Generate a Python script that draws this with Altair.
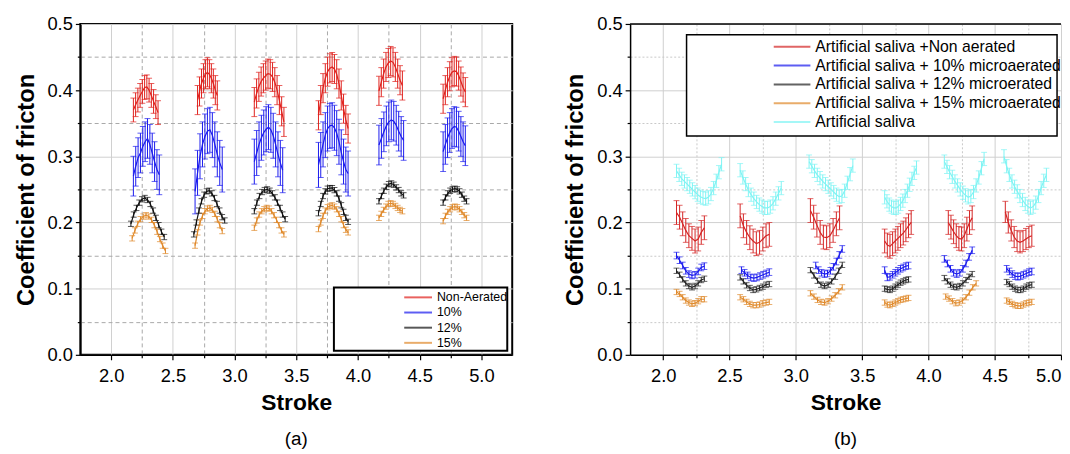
import altair as alt
import pandas as pd
import numpy as np

FONT = "Liberation Sans"

# ---------------- Panel (a) ----------------
a_names = ["Non-Aerated", "10%", "12%", "15%"]
a_colors = ["#e0201c", "#1a1aee", "#111111", "#e08a2c"]

a_red_y = [
    [0.370, 0.378, 0.385, 0.392, 0.398, 0.404, 0.405, 0.400, 0.392, 0.383, 0.375, 0.366],
    [0.385, 0.398, 0.410, 0.418, 0.424, 0.427, 0.424, 0.418, 0.410, 0.400, 0.392],
    [0.382, 0.395, 0.405, 0.413, 0.418, 0.422, 0.425, 0.424, 0.420, 0.412, 0.400, 0.385, 0.368, 0.352],
    [0.362, 0.385, 0.403, 0.418, 0.428, 0.433, 0.435, 0.432, 0.424, 0.410, 0.392, 0.372, 0.355, 0.342],
    [0.399, 0.412, 0.425, 0.435, 0.441, 0.444, 0.442, 0.435, 0.425, 0.415, 0.407],
    [0.387, 0.400, 0.412, 0.421, 0.427, 0.429, 0.428, 0.422, 0.413, 0.404, 0.397],
]
a_red_x = [(2.18, 2.38), (2.70, 2.86), (3.16, 3.40), (3.68, 3.92), (4.17, 4.36), (4.69, 4.87)]
a_red_err = [0.018, 0.022, 0.022, 0.022, 0.022, 0.022]

a_blue_y = [
    [0.270, 0.285, 0.298, 0.305, 0.315, 0.322, 0.327, 0.318, 0.305, 0.292, 0.280, 0.272],
    [0.247, 0.275, 0.300, 0.318, 0.330, 0.338, 0.340, 0.332, 0.318, 0.303, 0.290, 0.280],
    [0.292, 0.305, 0.318, 0.328, 0.336, 0.341, 0.344, 0.340, 0.331, 0.318, 0.303, 0.290, 0.279],
    [0.287, 0.302, 0.318, 0.332, 0.342, 0.346, 0.347, 0.343, 0.335, 0.322, 0.306, 0.292, 0.280, 0.274],
    [0.317, 0.327, 0.337, 0.346, 0.352, 0.355, 0.353, 0.347, 0.338, 0.330, 0.324],
    [0.307, 0.318, 0.328, 0.336, 0.342, 0.345, 0.344, 0.338, 0.330, 0.322, 0.316],
]
a_blue_x = [(2.18, 2.39), (2.68, 2.90), (3.16, 3.39), (3.68, 3.92), (4.17, 4.37), (4.69, 4.87)]
a_blue_err = [0.030, 0.034, 0.034, 0.034, 0.030, 0.030]

a_black_y = [
    [0.198, 0.212, 0.222, 0.230, 0.235, 0.237, 0.234, 0.228, 0.218, 0.207, 0.196, 0.186, 0.178],
    [0.182, 0.200, 0.218, 0.232, 0.242, 0.247, 0.248, 0.244, 0.237, 0.228, 0.218, 0.208, 0.203],
    [0.217, 0.230, 0.240, 0.246, 0.249, 0.250, 0.248, 0.244, 0.238, 0.230, 0.222, 0.212, 0.205],
    [0.214, 0.228, 0.240, 0.247, 0.251, 0.252, 0.252, 0.249, 0.244, 0.236, 0.226, 0.216, 0.207, 0.201],
    [0.232, 0.240, 0.248, 0.254, 0.258, 0.259, 0.257, 0.253, 0.249, 0.244, 0.241],
    [0.230, 0.238, 0.244, 0.248, 0.250, 0.251, 0.250, 0.247, 0.242, 0.236, 0.232],
]
a_black_x = [(2.16, 2.43), (2.67, 2.92), (3.16, 3.41), (3.68, 3.92), (4.17, 4.37), (4.69, 4.88)]
a_black_err = [0.004, 0.004, 0.004, 0.004, 0.004, 0.004]

a_orange_y = [
    [0.176, 0.188, 0.198, 0.205, 0.209, 0.211, 0.209, 0.204, 0.196, 0.186, 0.175, 0.165, 0.157],
    [0.165, 0.185, 0.200, 0.210, 0.217, 0.221, 0.222, 0.219, 0.213, 0.205, 0.196, 0.187],
    [0.192, 0.203, 0.212, 0.217, 0.220, 0.222, 0.221, 0.217, 0.211, 0.204, 0.196, 0.188, 0.182],
    [0.190, 0.200, 0.210, 0.218, 0.223, 0.225, 0.226, 0.224, 0.220, 0.213, 0.205, 0.196, 0.189, 0.185],
    [0.207, 0.213, 0.219, 0.224, 0.228, 0.229, 0.228, 0.225, 0.222, 0.219, 0.217],
    [0.202, 0.210, 0.216, 0.220, 0.223, 0.224, 0.223, 0.220, 0.216, 0.211, 0.207],
]
a_orange_x = [(2.17, 2.44), (2.68, 2.90), (3.16, 3.40), (3.68, 3.92), (4.17, 4.36), (4.69, 4.88)]
a_orange_err = [0.004, 0.004, 0.004, 0.004, 0.004, 0.004]

# ---------------- Panel (b) ----------------
b_names = ["Artificial saliva +Non aerated", "Artificial saliva + 10% microaerated",
           "Artificial saliva + 12% microerated", "Artificial saliva + 15% microaerated",
           "Artificial saliva"]
b_colors = ["#d42424", "#1a1aee", "#222222", "#e08a2c", "#7ff4f4"]

b_red_y = [
    [0.215, 0.208, 0.198, 0.188, 0.180, 0.176, 0.172, 0.175, 0.185, 0.192],
    [0.210, 0.195, 0.185, 0.177, 0.172, 0.168, 0.170, 0.175, 0.180, 0.182],
    [0.218, 0.208, 0.196, 0.185, 0.178, 0.177, 0.180, 0.188, 0.198, 0.207],
    [0.172, 0.166, 0.164, 0.168, 0.172, 0.176, 0.180, 0.184, 0.189, 0.195, 0.200],
    [0.200, 0.193, 0.186, 0.180, 0.176, 0.175, 0.180, 0.190, 0.200, 0.207],
    [0.216, 0.200, 0.188, 0.178, 0.172, 0.170, 0.172, 0.175, 0.178, 0.180],
]
b_red_x = [(2.10, 2.31), (2.58, 2.80), (3.11, 3.33), (3.67, 3.87), (4.15, 4.33), (4.58, 4.78)]
b_red_err = [0.018, 0.018, 0.018, 0.018, 0.018, 0.016]

b_blue_y = [
    [0.150, 0.143, 0.135, 0.127, 0.122, 0.120, 0.121, 0.126, 0.132, 0.134],
    [0.128, 0.124, 0.120, 0.117, 0.116, 0.117, 0.119, 0.121, 0.123, 0.125],
    [0.135, 0.128, 0.124, 0.122, 0.123, 0.127, 0.133, 0.141, 0.151, 0.160],
    [0.128, 0.117, 0.118, 0.121, 0.124, 0.127, 0.130, 0.132, 0.134, 0.135],
    [0.145, 0.138, 0.130, 0.124, 0.122, 0.124, 0.130, 0.138, 0.148, 0.158],
    [0.130, 0.126, 0.122, 0.119, 0.118, 0.119, 0.121, 0.123, 0.125, 0.126],
]
b_blue_x = [(2.10, 2.31), (2.59, 2.80), (3.15, 3.35), (3.67, 3.85), (4.12, 4.33), (4.59, 4.78)]
b_blue_err = [0.005, 0.005, 0.005, 0.005, 0.005, 0.005]

b_black_y = [
    [0.127, 0.121, 0.114, 0.108, 0.104, 0.102, 0.104, 0.108, 0.113, 0.115],
    [0.117, 0.111, 0.105, 0.101, 0.098, 0.099, 0.101, 0.103, 0.106, 0.107],
    [0.128, 0.120, 0.112, 0.106, 0.104, 0.106, 0.111, 0.118, 0.127, 0.136],
    [0.100, 0.099, 0.098, 0.100, 0.103, 0.106, 0.109, 0.111, 0.113, 0.114],
    [0.116, 0.111, 0.106, 0.103, 0.102, 0.104, 0.108, 0.113, 0.118, 0.122],
    [0.110, 0.107, 0.103, 0.100, 0.098, 0.098, 0.100, 0.103, 0.105, 0.106],
]
b_black_x = [(2.10, 2.31), (2.58, 2.80), (3.11, 3.35), (3.67, 3.85), (4.12, 4.33), (4.59, 4.78)]
b_black_err = [0.004, 0.004, 0.004, 0.004, 0.004, 0.004]

b_orange_y = [
    [0.095, 0.092, 0.087, 0.082, 0.079, 0.077, 0.078, 0.081, 0.084, 0.084],
    [0.087, 0.084, 0.080, 0.077, 0.075, 0.075, 0.076, 0.078, 0.079, 0.080],
    [0.093, 0.088, 0.083, 0.080, 0.079, 0.081, 0.085, 0.090, 0.096, 0.102],
    [0.079, 0.076, 0.075, 0.077, 0.079, 0.081, 0.083, 0.084, 0.085, 0.086],
    [0.088, 0.085, 0.081, 0.078, 0.079, 0.082, 0.087, 0.094, 0.102, 0.108],
    [0.082, 0.080, 0.077, 0.075, 0.074, 0.074, 0.076, 0.078, 0.079, 0.080],
]
b_orange_x = [(2.10, 2.31), (2.58, 2.80), (3.11, 3.35), (3.67, 3.85), (4.13, 4.36), (4.59, 4.78)]
b_orange_err = [0.004, 0.004, 0.004, 0.004, 0.004, 0.004]

b_cyan_y = [
    [0.278, 0.272, 0.266, 0.262, 0.258, 0.254, 0.250, 0.246, 0.242, 0.239, 0.237, 0.236, 0.238, 0.243, 0.252, 0.263, 0.276, 0.288],
    [0.279, 0.268, 0.258, 0.249, 0.242, 0.236, 0.231, 0.227, 0.224, 0.222, 0.222, 0.224, 0.229, 0.236, 0.244, 0.252],
    [0.292, 0.285, 0.278, 0.272, 0.267, 0.262, 0.258, 0.254, 0.250, 0.246, 0.242, 0.239, 0.240, 0.248, 0.260, 0.273, 0.286],
    [0.238, 0.232, 0.227, 0.224, 0.222, 0.222, 0.224, 0.228, 0.233, 0.240, 0.248, 0.257, 0.266, 0.275, 0.283],
    [0.292, 0.284, 0.276, 0.269, 0.262, 0.256, 0.250, 0.245, 0.241, 0.238, 0.240, 0.246, 0.256, 0.268, 0.282, 0.296],
    [0.300, 0.285, 0.272, 0.262, 0.254, 0.247, 0.240, 0.234, 0.228, 0.224, 0.222, 0.224, 0.230, 0.240, 0.252, 0.263, 0.272],
]
b_cyan_x = [(2.10, 2.44), (2.58, 2.89), (3.10, 3.43), (3.67, 3.91), (4.12, 4.42), (4.57, 4.89)]
b_cyan_err = [0.010, 0.010, 0.010, 0.010, 0.010, 0.010]

x_all = [2.0, 2.25, 2.5, 2.75, 3.0, 3.25, 3.5, 3.75, 4.0, 4.25, 4.5, 4.75, 5.0]
y_all = [0.0, 0.05, 0.1, 0.15, 0.2, 0.25, 0.3, 0.35, 0.4, 0.45, 0.5]


def build(names, ys, xs, errs):
    rows = []
    for name, yy, xx, ee in zip(names, ys, xs, errs):
        for g, (vals, (x0, x1), e) in enumerate(zip(yy, xx, ee)):
            xv = np.linspace(x0, x1, len(vals))
            for x, v in zip(xv, vals):
                rows.append(dict(series=name, grp=f"{name}|{g}", x=float(x), y=v, lo=v - e, hi=v + e))
    return pd.DataFrame(rows)


df_a = build(a_names, [a_red_y, a_blue_y, a_black_y, a_orange_y],
             [a_red_x, a_blue_x, a_black_x, a_orange_x],
             [a_red_err, a_blue_err, a_black_err, a_orange_err])
df_b = build(b_names, [b_red_y, b_blue_y, b_black_y, b_orange_y, b_cyan_y],
             [b_red_x, b_blue_x, b_black_x, b_orange_x, b_cyan_x],
             [b_red_err, b_blue_err, b_black_err, b_orange_err, b_cyan_err])

X_MINOR = "abs(datum.value*2 - round(datum.value*2)) > 0.01"
Y_MINOR = "abs(datum.value*10 - round(datum.value*10)) > 0.01"

AXIS_STYLE = dict(
    labelFont=FONT, titleFont=FONT, labelFontSize=18.5,
    titleFontWeight="bold", labelColor="black", titleColor="black",
    domainColor="black", domainWidth=1.5, tickColor="black", tickWidth=1.2,
    labelOverlap=False, grid=True,
)


def make_panel(df, names, colors, xdom, width, minor_grid_color, minor_dash, legend,
               box, box_sw, view_stroke, label, flush):
    xsc = alt.Scale(domain=xdom, nice=False, zero=False)
    ysc = alt.Scale(domain=[0, 0.5], nice=False, zero=False)
    xaxis = alt.Axis(
        values=x_all, title="Stroke", titleFontSize=23,
        labelExpr=f"{X_MINOR} ? '' : format(datum.value, '.1f')",
        gridColor={"condition": {"test": X_MINOR, "value": minor_grid_color}, "value": "#cfcfcf"},
        gridDash={"condition": {"test": X_MINOR, "value": minor_dash}, "value": []},
        tickSize={"condition": {"test": X_MINOR, "value": 3}, "value": 5},
        labelFlush=flush, labelPadding=7, titlePadding=7, **AXIS_STYLE,
    )
    yaxis = alt.Axis(
        values=y_all, title="Coefficient of fricton", titleFontSize=24,
        labelExpr=f"{Y_MINOR} ? '' : format(datum.value, '.1f')",
        gridColor={"condition": {"test": Y_MINOR, "value": minor_grid_color}, "value": "#cfcfcf"},
        gridDash={"condition": {"test": Y_MINOR, "value": minor_dash}, "value": []},
        tickSize={"condition": {"test": Y_MINOR, "value": 3}, "value": 5},
        labelPadding=3, titlePadding=9, **AXIS_STYLE,
    )
    cscale = alt.Scale(domain=names, range=colors)
    C = alt.Color("series:N", scale=cscale, legend=legend, sort=names)
    base = alt.Chart(df)
    X = alt.X("x:Q", scale=xsc, axis=xaxis)
    boxl = alt.Chart(pd.DataFrame({"k": [0]})).mark_rect(
        fill="white", stroke="black", strokeWidth=box_sw
    ).encode(x=alt.value(box[0]), x2=alt.value(box[1]), y=alt.value(box[2]), y2=alt.value(box[3]))
    line = base.mark_line(strokeWidth=1.2).encode(
        x=X, y=alt.Y("y:Q", scale=ysc, axis=yaxis), color=C, detail="grp:N",
    )
    bars = base.mark_rule(strokeWidth=1).encode(
        x=X, y=alt.Y("lo:Q", scale=ysc, axis=yaxis), y2="hi:Q", color=C,
    )
    cap_hi = base.mark_tick(orient="horizontal", size=6, thickness=1).encode(
        x=X, y=alt.Y("hi:Q", scale=ysc, axis=yaxis), color=C,
    )
    cap_lo = base.mark_tick(orient="horizontal", size=6, thickness=1).encode(
        x=X, y=alt.Y("lo:Q", scale=ysc, axis=yaxis), color=C,
    )
    layers = [boxl, line, bars, cap_hi, cap_lo]
    if view_stroke is None:
        top = alt.Chart(pd.DataFrame({"k": [0]})).mark_rule(color="black", strokeWidth=1.5).encode(
            x=alt.value(0), x2=alt.value(width), y=alt.value(0))
        layers.append(top)
        view = alt.ViewBackground(stroke=None)
    else:
        view = alt.ViewBackground(stroke="black", strokeWidth=view_stroke)
    return alt.layer(*layers).properties(
        width=width, height=334, view=view,
        title=alt.TitleParams(label, orient="bottom", anchor="middle", fontSize=19,
                              font=FONT, fontWeight="normal", offset=16, color="black"),
    )


leg_a = alt.Legend(orient="none", legendX=332.5, legendY=267.5, title=None,
                   symbolType="M-1.87,0H1.87", symbolSize=225, symbolStrokeWidth=2,
                   labelFont=FONT, labelFontSize=12.5, labelOffset=10.5, rowPadding=0.3,
                   padding=0, labelColor="black")
leg_b = alt.Legend(orient="none", legendX=152.5, legendY=12, title=None,
                   symbolType="M-1.85,0H1.85", symbolSize=400, symbolStrokeWidth=2,
                   labelFont=FONT, labelFontSize=15.9, labelOffset=12.5, rowPadding=0,
                   padding=0, labelColor="black", labelLimit=400)

pa = make_panel(df_a, a_names, a_colors, [1.75, 5.25], 436, "#a8a8a8", [4, 3], leg_a,
                (256, 431, 266, 330), 2, 2, "(a)", False)
pb = make_panel(df_b, b_names, b_colors, [1.75, 5.0], 435, "#c8c8c8", [2, 2], leg_b,
                (57, 431, 11, 113), 1.5, None, "(b)", True)

chart = alt.hconcat(pa, pb, spacing=51).resolve_scale(
    color="independent", x="independent", y="independent"
).resolve_legend(color="independent").properties(
    padding={"left": 5, "top": 4, "right": 0, "bottom": 0}, background="white"
)

chart.save("out.html", embed_options={"renderer": "svg", "actions": False})
